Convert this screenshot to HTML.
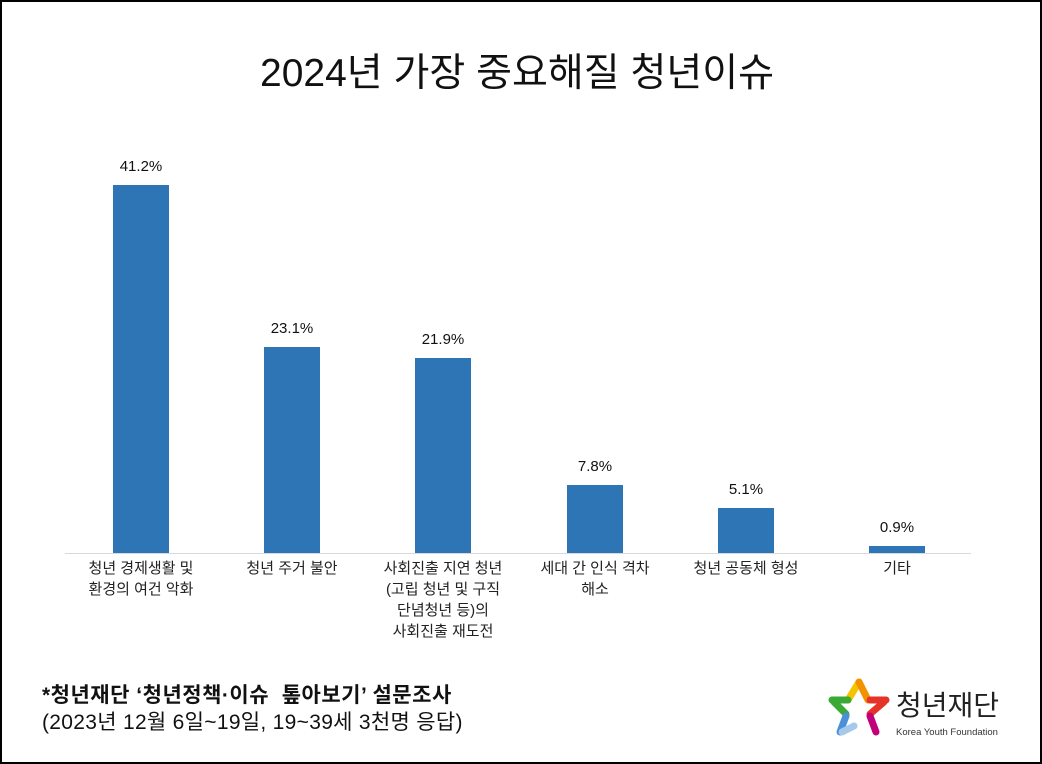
<!DOCTYPE html>
<html><head><meta charset="utf-8"><style>
body{margin:0;width:1042px;height:764px;overflow:hidden;background:#fff;font-family:"Liberation Sans","Noto Sans CJK KR",sans-serif;}
.frame{position:absolute;left:0;top:0;width:1038px;height:760px;border:2px solid #000;}
.t{position:absolute;white-space:nowrap;color:#111;}
.bar{position:absolute;background:#2e75b6;width:56px;}
.v{position:absolute;width:100px;text-align:center;font-size:15px;color:#111;}
.c{position:absolute;width:150px;text-align:center;font-size:15px;line-height:21px;color:#222;}
</style></head><body>
<div class="frame"></div>
<div class="t" style="left:0;width:1042px;text-align:center;top:42px;font-size:39px;transform:translateX(-4px)">2024년 가장 중요해질 청년이슈</div>
<div style="position:absolute;left:65px;top:553px;width:906px;height:1px;background:#d9d9d9"></div>

<div class="bar" style="left:113px;top:185px;height:368px"></div>
<div class="v" style="left:91px;top:158px">41.2%</div>
<div class="bar" style="left:264px;top:347px;height:206px"></div>
<div class="v" style="left:242px;top:320px">23.1%</div>
<div class="bar" style="left:415px;top:358px;height:195px"></div>
<div class="v" style="left:393px;top:331px">21.9%</div>
<div class="bar" style="left:567px;top:485px;height:68px"></div>
<div class="v" style="left:545px;top:458px">7.8%</div>
<div class="bar" style="left:718px;top:508px;height:45px"></div>
<div class="v" style="left:696px;top:481px">5.1%</div>
<div class="bar" style="left:869px;top:546px;height:7px"></div>
<div class="v" style="left:847px;top:519px">0.9%</div>

<div class="c" style="left:66px;top:558px">청년 경제생활 및<br>환경의 여건 악화</div>
<div class="c" style="left:217px;top:558px">청년 주거 불안</div>
<div class="c" style="left:368px;top:558px">사회진출 지연 청년<br>(고립 청년 및 구직<br>단념청년 등)의<br>사회진출 재도전</div>
<div class="c" style="left:520px;top:558px">세대 간 인식 격차<br>해소</div>
<div class="c" style="left:671px;top:558px">청년 공동체 형성</div>
<div class="c" style="left:822px;top:558px">기타</div>

<div class="t" style="left:42px;top:679px;font-size:21px;font-weight:bold;letter-spacing:0.5px">*청년재단 ‘청년정책·이슈 &nbsp;톺아보기’ 설문조사</div>
<div class="t" style="left:42px;top:706px;font-size:21px;letter-spacing:0.3px">(2023년 12월 6일~19일, 19~39세 3천명 응답)</div>

<svg style="position:absolute;left:826px;top:676px" width="66" height="62" viewBox="0 0 66 62">
<g stroke-linecap="round" stroke-width="7" fill="none">
<line x1="33" y1="6" x2="22" y2="24" stroke="#f5c400"/>
<line x1="33" y1="6" x2="42" y2="24" stroke="#f39200"/>
<line x1="6" y1="24" x2="22" y2="24" stroke="#3aaa35"/>
<line x1="44" y1="24" x2="60" y2="24" stroke="#e6332a"/>
<line x1="58" y1="26" x2="44" y2="38" stroke="#e6332a"/>
<line x1="44" y1="40" x2="50" y2="56" stroke="#c2007a"/>
<line x1="8" y1="26" x2="20" y2="38" stroke="#3aaa35"/>
<line x1="20" y1="40" x2="14" y2="56" stroke="#4a90d9"/>
<line x1="16" y1="56" x2="28" y2="50" stroke="#a6c8ea"/>
</g></svg>
<div class="t" style="left:896px;top:684px;font-size:28px;color:#222;">청년재단</div>
<div class="t" style="left:896px;top:727px;font-size:9.5px;color:#333;">Korea Youth Foundation</div>
</body></html>
